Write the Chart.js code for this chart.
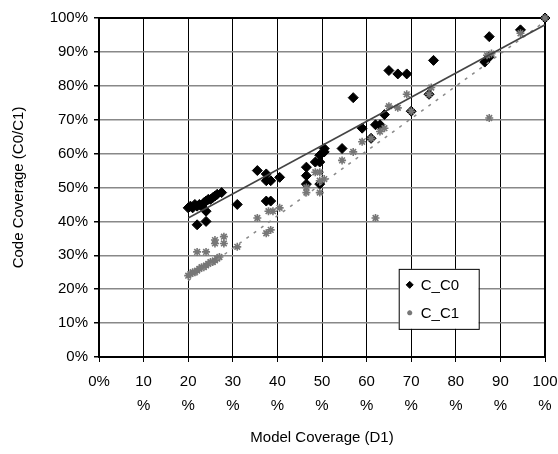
<!DOCTYPE html>
<html>
<head>
<meta charset="utf-8">
<script src="https://cdn.jsdelivr.net/npm/chart.js@4"></script>
<style>
  html, body { margin: 0; padding: 0; background: #fff; }
  #wrap { width: 558px; height: 454px; }
</style>
</head>
<body>
<div id="wrap"><canvas id="covChart" width="558" height="454"></canvas></div>
<script>
// values (percent)
const c0X = [20, 20.5, 21, 21.5, 22, 22.5, 23, 23.5, 24, 24.5, 25, 25.5, 26, 26.5, 27.5,
  24, 22, 24, 31, 35.5, 37.5, 37.5, 38.5, 40.5, 37.5, 38.5,
  46.5, 46.5, 46.5, 49.5, 48.5, 49.5, 49.5, 50.5, 50.5, 54.5, 57, 59, 61, 62, 63, 64,
  65, 67, 69, 70, 74, 75, 86.5, 87.5, 87.5, 94.5, 100];
const c0Y = [44, 44.5, 44, 45, 44.5, 45, 44.5, 45.5, 46, 46.5, 46.5, 47, 47.5, 48, 48.5,
  43, 39, 40, 45, 55, 54, 52, 52, 53, 46, 46,
  56, 53.5, 51, 51, 57.5, 57.5, 59.5, 60.5, 61.5, 61.5, 76.5, 67.5, 64.5, 68.5, 68.5, 71.5,
  84.5, 83.5, 83.5, 72.5, 77.5, 87.5, 87, 88.5, 94.5, 96.5, 100];

const c1X = [20, 20.5, 21, 21.5, 22, 22.5, 23, 23.5, 24, 24.5, 25, 25.5, 26, 26.5, 27,
  22, 24, 26, 26, 28, 28, 31, 35.5, 37.5, 38.5, 38, 39, 40.5,
  46.5, 46.5, 49.5, 48.5, 49.5, 49.5, 50.5, 54.5, 57, 59, 61, 62, 63, 64,
  65, 67, 69, 70, 74, 74.5, 87.5, 87, 88, 94.5, 100];
const c1Y = [24, 24.5, 25, 25, 25.5, 26, 26.5, 26.5, 27, 27.5, 28, 28, 28.5, 29, 29.5,
  31, 31, 34.5, 33.5, 35.5, 33.5, 32.5, 41, 36.5, 37.5, 43, 43, 44,
  50, 48.5, 48.5, 54.5, 54.5, 52, 52.5, 58, 60.5, 63.5, 64.5, 41, 66.5, 67.5,
  74, 73.5, 77.5, 72.5, 77.5, 79.5, 70.5, 89, 89.5, 95.5, 100];

// trend lines (end points)
const trendX = [20, 100];
const trend0Y = [41, 98];
const trend1Y = [22.5, 99];

const xTicks = [0, 10, 20, 30, 40, 50, 60, 70, 80, 90, 100];
const yTicks = [0, 10, 20, 30, 40, 50, 60, 70, 80, 90, 100];

const toPts = (xs, ys) => xs.map((x, i) => ({ x: x, y: ys[i] }));

const FONT = 'Liberation Sans, Arial, sans-serif';

// chart area frame + legend box inside the plot
const framePlugin = {
  id: 'frame',
  beforeDatasetsDraw(chart) {
    const a = chart.chartArea, c = chart.ctx;
    c.save();
    c.strokeStyle = '#000';
    c.lineWidth = 2;
    c.strokeRect(a.left, a.top, a.right - a.left, a.bottom - a.top);
    c.restore();
  },
  afterDraw(chart) {
    const c = chart.ctx;
    const xs = chart.scales.x, ys = chart.scales.y;
    const left = xs.getPixelForValue(67.2), top = ys.getPixelForValue(26);
    const w = 80, h = 60;
    c.save();
    c.fillStyle = '#fff';
    c.fillRect(left, top, w, h);
    c.strokeStyle = '#000';
    c.lineWidth = 1;
    c.strokeRect(left + 0.5, top + 0.5, w, h);
    c.font = '15px ' + FONT;
    c.textBaseline = 'middle';
    const items = [chart.data.datasets[2], chart.data.datasets[3]];
    items.forEach((ds, i) => {
      const cy = top + 16 + i * 28;
      c.fillStyle = ds.pointBackgroundColor;
      c.strokeStyle = ds.pointBorderColor;
      c.lineWidth = ds.borderWidth;
      Chart.helpers.drawPoint(c, {
        pointStyle: ds.pointStyle, radius: ds.pointRadius - 1.5,
        borderWidth: ds.borderWidth
      }, left + 11, cy);
      c.fillStyle = '#000';
      c.fillText(ds.label, left + 22, cy + 1);
    });
    c.restore();
  }
};

const ctx = document.getElementById('covChart').getContext('2d');
new Chart(ctx, {
  type: 'scatter',
  data: {
    datasets: [
      {
        label: 'trend C0',
        type: 'line',
        data: toPts(trendX, trend0Y),
        borderColor: '#444',
        borderWidth: 1.5,
        pointRadius: 0,
        order: 0
      },
      {
        label: 'trend C1',
        type: 'line',
        data: toPts(trendX, trend1Y),
        borderColor: '#888',
        borderWidth: 1.5,
        borderDash: [3, 6],
        pointRadius: 0,
        order: 0
      },
      {
        label: 'C_C0',
        data: toPts(c0X, c0Y),
        pointStyle: 'rectRot',
        pointRadius: 5,
        pointBackgroundColor: '#000',
        pointBorderColor: '#000',
        borderWidth: 1,
        clip: false,
        order: 2
      },
      {
        label: 'C_C1',
        data: toPts(c1X, c1Y),
        pointStyle: 'star',
        pointRadius: 4,
        pointBackgroundColor: '#777',
        pointBorderColor: '#777',
        borderWidth: 1.6,
        clip: false,
        order: 1
      }
    ]
  },
  options: {
    responsive: false,
    animation: false,
    layout: { padding: { top: 18, right: 13, left: 0, bottom: 0 } },
    plugins: {
      legend: { display: false },
      tooltip: { enabled: false }
    },
    scales: {
      x: {
        type: 'linear',
        min: 0,
        max: 100,
        afterFit(s) { s.height = 97; s.paddingRight = 0; s.paddingLeft = 0; },
        afterBuildTicks(s) { s.ticks = xTicks.map(v => ({ value: v })); },
        ticks: {
          color: '#000',
          font: { family: FONT, size: 15, lineHeight: 1.65 },
          padding: 7,
          maxRotation: 0,
          autoSkip: false,
          callback: v => v === 0 ? '0%' : [String(v), '%']
        },
        grid: { color: '#000', lineWidth: 1, tickLength: 5, tickColor: '#000' },
        border: { display: false },
        title: {
          display: true,
          text: 'Model Coverage (D1)',
          color: '#000',
          font: { family: FONT, size: 15 },
          padding: { top: 4, bottom: 7 }
        }
      },
      y: {
        min: 0,
        max: 100,
        afterFit(s) { s.width = 99; },
        afterBuildTicks(s) { s.ticks = yTicks.map(v => ({ value: v })); },
        ticks: {
          color: '#000',
          font: { family: FONT, size: 15 },
          padding: 6,
          callback: v => v + '%'
        },
        grid: { color: '#888', lineWidth: 1.5, tickLength: 5, tickColor: '#000' },
        border: { display: false },
        title: {
          display: true,
          text: 'Code Coverage (C0/C1)',
          color: '#000',
          font: { family: FONT, size: 15 },
          padding: { top: 10, bottom: 4 }
        }
      }
    }
  },
  plugins: [framePlugin]
});
</script>
</body>
</html>
